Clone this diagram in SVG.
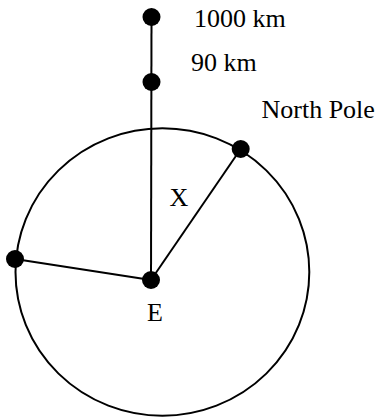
<svg xmlns="http://www.w3.org/2000/svg" width="379" height="420" viewBox="0 0 379 420">
<style>
.ln{stroke:#000;stroke-width:2;fill:none}
.dot{fill:#000}
.t{font-family:"Liberation Serif","Times New Roman",serif;font-size:26px;fill:#000}
</style>
<rect width="379" height="420" fill="#fff"/>
<g id="earth"><ellipse class="ln" cx="162.4" cy="272" rx="146.9" ry="143.7"/></g>
<g id="connectors">
<line class="ln" x1="151.5" y1="17" x2="151" y2="280"/>
<line class="ln" x1="151" y1="280" x2="240.7" y2="149"/>
<line class="ln" x1="151" y1="280" x2="15" y2="259"/>
</g>
<g id="p1000"><circle class="dot" cx="151.5" cy="17" r="9"/><text class="t" x="194" y="27">1000 km</text></g>
<g id="p90"><circle class="dot" cx="151.5" cy="82" r="9"/><text class="t" x="191" y="71">90 km</text></g>
<g id="northpole"><circle class="dot" cx="240.7" cy="149" r="9"/><text class="t" x="261.5" y="118">North Pole</text></g>
<g id="left"><circle class="dot" cx="15" cy="259" r="9"/></g>
<g id="E"><circle class="dot" cx="151" cy="280" r="9"/><text class="t" x="147" y="321">E</text></g>
<g id="X"><text class="t" x="169.5" y="206">X</text></g>
</svg>
